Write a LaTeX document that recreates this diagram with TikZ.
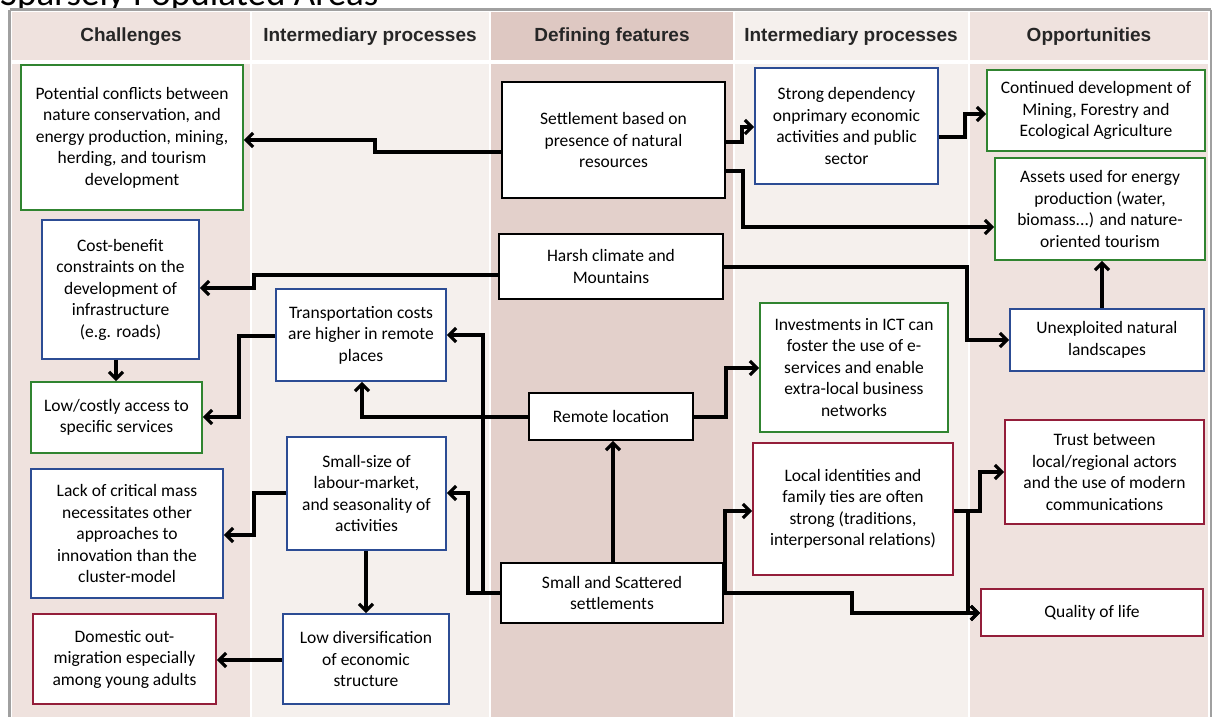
\documentclass[tikz,border=0pt]{standalone}
\usepackage{fontspec}
\setmainfont{Carlito}
\newfontfamily\hdfont{Liberation Sans}
\usetikzlibrary{arrows.meta}
\definecolor{cgreen}{RGB}{48,132,48}
\definecolor{cblue}{RGB}{44,76,148}
\definecolor{cred}{RGB}{148,30,58}
\definecolor{colA}{RGB}{239,226,222}
\definecolor{colB}{RGB}{245,240,237}
\definecolor{colC}{RGB}{227,208,203}
\definecolor{colCh}{RGB}{222,200,194}
\definecolor{framegray}{RGB}{160,160,160}
\newcommand\bx[7]{\node[#6, minimum width={(#4-#2)*1pt}, minimum height={(#5-#3)*1pt}] (#1) at ({(#2+#4)/2},{(#3+#5)/2}) {#7};}
\tikzset{
  boxbase/.style={draw, fill=white, line width=1.9pt, align=center, inner sep=0pt,
    font=\fontsize{17.5}{21.5}\selectfont},
  gbox/.style={boxbase, draw=cgreen},
  bbox/.style={boxbase, draw=cblue},
  rbox/.style={boxbase, draw=cred},
  kbox/.style={boxbase, draw=black},
  hd/.style={font=\hdfont\bfseries\fontsize{19}{21}\selectfont, text=black!85, inner sep=0pt},
  arr/.style={line width=3.2pt, -{Straight Barb[length=7pt,width=14pt]}}
}
\begin{document}
\begin{tikzpicture}[x=1pt,y=-1pt]
\useasboundingbox (0,0) rectangle (1213,716);
\clip (0,0) rectangle (1213,716);
\fill[white] (0,0) rectangle (1213,716);
% cut title
\node[anchor=base west, inner sep=0pt, font=\fontsize{37}{40}\selectfont] (title) at (0,5) {Sparsely Populated Areas};
% frame and columns
\fill[white] (9,9) rectangle (1211,720);
\draw[framegray, line width=3pt] (9.5,9.5) -- (1210.5,9.5);
\draw[framegray, line width=3pt] (9.5,9.5) -- (9.5,720);
\draw[framegray, line width=1.5pt] (1211,9.5) -- (1211,720);
% headers
\fill[colA] (12,12) rectangle (250,60);
\fill[colB] (252,12) rectangle (489,60);
\fill[colCh] (491,12) rectangle (733,60);
\fill[colB] (735,12) rectangle (968,60);
\fill[colA] (970,12) rectangle (1208,60);
% bodies
\fill[colA] (12,64) rectangle (250,720);
\fill[colB] (252,64) rectangle (489,720);
\fill[colC] (491,64) rectangle (733,720);
\fill[colB] (735,64) rectangle (968,720);
\fill[colA] (970,64) rectangle (1208,720);
\node[hd] (h1) at (131,37) {Challenges};
\node[hd] (h2) at (370,37) {Intermediary processes};
\node[hd] (h3) at (612,37) {Defining features};
\node[hd] (h4) at (851,37) {Intermediary processes};
\node[hd] (h5) at (1089,37) {Opportunities};
% boxes
\bx{pot}{21}{65}{243}{210}{gbox}{Potential conflicts between\\nature conservation, and\\energy production, mining,\\herding, and tourism\\development}
\bx{set}{502}{82}{725}{198}{kbox}{Settlement based on\\presence of natural\\resources}
\bx{strong}{755}{68}{938}{184}{bbox}{Strong dependency\\onprimary economic\\activities and public\\sector}
\bx{cont}{987}{70}{1205}{151}{gbox}{Continued development of\\Mining, Forestry and\\Ecological Agriculture}
\bx{assets}{995}{158}{1205}{260}{gbox}{Assets used for energy\\production (water,\\biomass...) and nature-\\oriented tourism}
\bx{cost}{42}{220}{199}{359}{bbox}{Cost-benefit\\constraints on the\\development of\\infrastructure\\(e.g. roads)}
\bx{harsh}{499}{234}{723}{299}{kbox}{Harsh climate and\\Mountains}
\bx{trans}{276}{289}{446}{381}{bbox}{Transportation costs\\are higher in remote\\places}
\bx{unexp}{1010}{309}{1204}{371}{bbox}{Unexploited natural\\landscapes}
\bx{invest}{760}{303}{948}{432}{gbox}{Investments in ICT can\\foster the use of e-\\services and enable\\extra-local business\\networks}
\bx{low}{31}{382}{202}{453}{gbox}{Low/costly access to\\specific services}
\bx{remote}{529}{393}{693}{440}{kbox}{Remote location}
\bx{trust}{1005}{420}{1204}{524}{rbox}{Trust between\\local/regional actors\\and the use of modern\\communications}
\bx{smallsize}{287}{437}{446}{550}{bbox}{Small-size of\\labour-market,\\and seasonality of\\activities}
\bx{local}{753}{443}{953}{575}{rbox}{Local identities and\\family ties are often\\strong (traditions,\\interpersonal relations)}
\bx{lack}{31}{469}{223}{598}{bbox}{Lack of critical mass\\necessitates other\\approaches to\\innovation than the\\cluster-model}
\bx{small}{501}{563}{723}{623}{kbox}{Small and Scattered\\settlements}
\bx{quality}{981}{589}{1203}{636}{rbox}{Quality of life}
\bx{lowdiv}{283}{614}{449}{704}{bbox}{Low diversification\\of economic\\structure}
\bx{domestic}{33}{614}{216}{704}{rbox}{Domestic out-\\migration especially\\among young adults}
% connectors
\draw[arr] (set.west |- 0,152) -- (375,152) -- (375,140) -- (pot.east |- 0,140);
\draw[arr] (set.east |- 0,142) -- (742,142) -- (742,127) -- (strong.west |- 0,127);
\draw[arr] (set.east |- 0,171) -- (743,171) -- (743,227) -- (assets.west |- 0,227);
\draw[arr] (strong.east |- 0,137) -- (965,137) -- (965,114) -- (cont.west |- 0,114);
\draw[arr] (harsh.west |- 0,275) -- (254,275) -- (254,288) -- (cost.east |- 0,288);
\draw[arr] (harsh.east |- 0,267) -- (967,267) -- (967,340) -- (unexp.west |- 0,340);
\draw[arr] (unexp.north -| 1102,0) -- (assets.south -| 1102,0);
\draw[arr] (cost.south -| 116,0) -- (low.north -| 116,0);
\draw[arr] (trans.west |- 0,336) -- (239,336) -- (239,417) -- (low.east |- 0,417);
\draw[arr] (remote.west |- 0,417) -- (362,417) -- (trans.south -| 362,0);
\draw[arr] (remote.east |- 0,417) -- (726,417) -- (726,368) -- (invest.west |- 0,368);
\draw[arr] (small.north -| 613,0) -- (remote.south -| 613,0);
\draw[arr] (small.west |- 0,593) -- (483,593) -- (483,335) -- (trans.east |- 0,335);
\draw[arr] (small.west |- 0,593) -- (468,593) -- (468,493) -- (smallsize.east |- 0,493);
\draw[arr] (smallsize.west |- 0,493) -- (254,493) -- (254,535) -- (lack.east |- 0,535);
\draw[arr] (smallsize.south -| 366,0) -- (lowdiv.north -| 366,0);
\draw[arr] (lowdiv.west |- 0,660) -- (domestic.east |- 0,660);
\draw[arr] (small.east |- 0,593) -- (725,593) -- (725,511) -- (local.west |- 0,511);
\draw[arr] (small.east |- 0,593) -- (852,593) -- (852,613) -- (quality.west |- 0,613);
\draw[arr] (local.east |- 0,511) -- (980,511) -- (980,472) -- (trust.west |- 0,472);
\draw[arr] (local.east |- 0,511) -- (968,511) -- (968,613) -- (quality.west |- 0,613);
\end{tikzpicture}
\end{document}
